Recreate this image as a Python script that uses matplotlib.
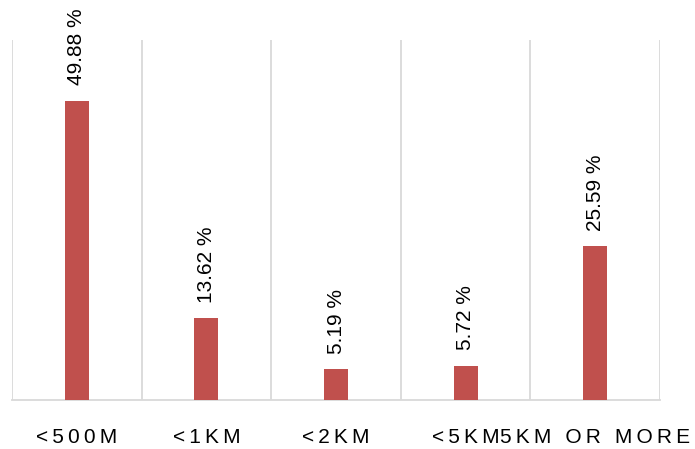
import matplotlib.pyplot as plt

# data
categories = ['<500M', '<1KM', '<2KM', '<5KM', '5KM OR MORE']
values = [49.88, 13.62, 5.19, 5.72, 25.59]

fig = plt.figure(figsize=(6.95, 4.49), dpi=100)
ax = fig.add_axes([12/695, 49/449, 648/695, 360/449])

x = list(range(len(categories)))
ax.bar(x, values, width=0.185, color='#C0504D', zorder=3)

ax.set_xlim(-0.5, len(categories) - 0.5)
ax.set_ylim(0, 60)

# vertical separators between categories
for b in range(len(categories) + 1):
    ax.axvline(b - 0.5, color='#d9d9d9', lw=1.3, zorder=1)

for s in ['top', 'left', 'right']:
    ax.spines[s].set_visible(False)
ax.spines['bottom'].set_color('#d9d9d9')
ax.spines['bottom'].set_linewidth(1.3)
ax.set_yticks([])

# spaced-out tick labels
sp = '\u2009'
ax.set_xticks(x)
ax.set_xticklabels([sp.join(c) for c in categories],
                   family=['Liberation Sans', 'DejaVu Sans'], fontsize=15)
ax.tick_params(axis='x', length=0, pad=20)

for xi, v in zip(x, values):
    ax.annotate(f'{v:.2f} %', (xi, v), xytext=(0, 11), textcoords='offset points',
                rotation=90, ha='center', va='bottom', fontsize=15,
                family=['Liberation Sans', 'DejaVu Sans'], annotation_clip=False)

fig.savefig('out.png', dpi=100)
